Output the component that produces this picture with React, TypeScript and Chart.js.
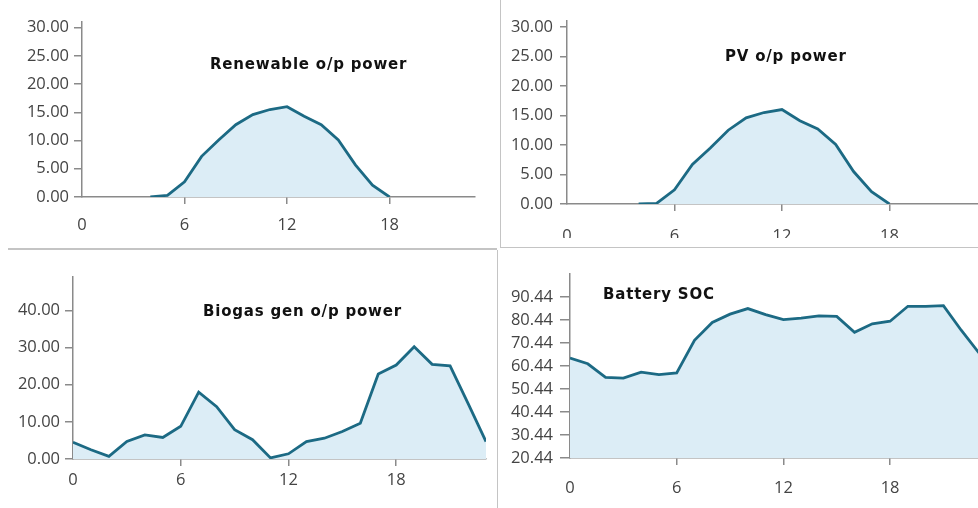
import React, { useEffect, useRef } from 'react';
import { Chart, registerables } from 'chart.js';

Chart.register(...registerables);

// ---------- data ----------
const hours = [0, 1, 2, 3, 4, 5, 6, 7, 8, 9, 10, 11, 12, 13, 14, 15, 16, 17, 18, 19, 20, 21, 22, 23];
const xTickValues = [0, 6, 12, 18];

const renewableValues = [null, null, null, null, 0, 0.3, 2.7, 7.2, 10.1, 12.8, 14.6, 15.5, 16.0, 14.3, 12.8, 10.1, 5.7, 2.1, 0, null, null, null, null, null];
const pvValues = [null, null, null, null, 0, 0.1, 2.4, 6.7, 9.5, 12.5, 14.6, 15.5, 16.0, 14.1, 12.7, 10.1, 5.5, 2.1, 0, null, null, null, null, null];
const biogasValues = [4.5, 2.5, 0.7, 4.7, 6.5, 5.8, 8.8, 18.0, 14.1, 7.9, 5.2, 0.3, 1.4, 4.7, 5.6, 7.4, 9.6, 22.9, 25.3, 30.2, 25.5, 25.1, 15.0, 4.7];
const batteryValues = [63.9, 61.4, 55.5, 55.2, 57.8, 56.7, 57.4, 71.6, 79.4, 83.0, 85.4, 82.8, 80.6, 81.3, 82.2, 82.0, 75.1, 78.8, 79.9, 86.4, 86.4, 86.7, 76.0, 66.1];

const powerTicks = [0, 5, 10, 15, 20, 25, 30];
const biogasTicks = [0, 10, 20, 30, 40];
const socTicks = [20.44, 30.44, 40.44, 50.44, 60.44, 70.44, 80.44, 90.44];

const titles = ['Renewable o/p power', 'PV o/p power', 'Biogas gen o/p power', 'Battery SOC'];

// ---------- styles ----------
const LINE = '#1c6a84';
const FILL = '#dcedf6';
const AXIS = '#8a8a8a';
const LABEL = '#444444';
const FONT = 'Open Sans';

const titlePlugin = {
  id: 'panelTitle',
  afterDraw(chart: any, _args: any, opts: any) {
    if (!opts || !opts.text) return;
    const ctx = chart.ctx;
    ctx.save();
    ctx.font = 'bold 15px "DejaVu Sans"';
    try { (ctx as any).letterSpacing = '0.8px'; } catch (e) {}
    ctx.fillStyle = '#111';
    ctx.textAlign = 'left';
    ctx.textBaseline = 'middle';
    ctx.fillText(opts.text, opts.x, opts.y);
    ctx.restore();
  },
};

type Panel = {
  box: { left: number; top: number; width: number; height: number };
  canvas: { w: number; h: number };
  padding: { left: number; top: number; right: number; bottom: number };
  yWidth: number;
  xHeight: number;
  values: (number | null)[];
  yTicks: number[];
  yMin: number;
  yMax: number;
  xPad: number;
  yPad: number;
  yTickLen: number;
  title: string;
  titlePos: { x: number; y: number };
  fill: string;
};

const panels: Panel[] = [
  {
    box: { left: 0, top: 0, width: 497, height: 247 },
    canvas: { w: 497, h: 248 },
    padding: { left: 0, top: 22, right: 22, bottom: 0 },
    yWidth: 82, xHeight: 51,
    values: renewableValues, yTicks: powerTicks, yMin: 0, yMax: 31,
    xPad: 11, yPad: 5, yTickLen: 8,
    title: titles[0], titlePos: { x: 210, y: 65 }, fill: 'origin',
  },
  {
    box: { left: 501, top: 0, width: 477, height: 238 },
    canvas: { w: 490, h: 260 },
    padding: { left: 0, top: 21, right: 12, bottom: 0 },
    yWidth: 66, xHeight: 56,
    values: pvValues, yTicks: powerTicks, yMin: 0, yMax: 31,
    xPad: 15, yPad: 7, yTickLen: 7,
    title: titles[1], titlePos: { x: 224, y: 57 }, fill: 'origin',
  },
  {
    box: { left: 0, top: 250, width: 496, height: 258 },
    canvas: { w: 497, h: 258 },
    padding: { left: 0, top: 27, right: 11, bottom: 0 },
    yWidth: 73, xHeight: 49,
    values: biogasValues, yTicks: biogasTicks, yMin: 0, yMax: 49,
    xPad: 4, yPad: 5, yTickLen: 8,
    title: titles[2], titlePos: { x: 203, y: 62 }, fill: 'origin',
  },
  {
    box: { left: 500, top: 250, width: 478, height: 258 },
    canvas: { w: 490, h: 258 },
    padding: { left: 0, top: 24, right: 11, bottom: 0 },
    yWidth: 70, xHeight: 50,
    values: batteryValues, yTicks: socTicks, yMin: 20.44, yMax: 100.44,
    xPad: 13, yPad: 7, yTickLen: 10,
    title: titles[3], titlePos: { x: 103, y: 45 }, fill: 'start',
  },
];

function makeConfig(p: Panel): any {
  return {
    type: 'line',
    data: {
      datasets: [
        {
          data: hours.map((h, i) => ({ x: h, y: p.values[i] })),
          borderColor: LINE,
          backgroundColor: FILL,
          borderWidth: 2.8,
          pointRadius: 0,
          tension: 0,
          fill: p.fill,
          spanGaps: false,
        },
      ],
    },
    options: {
      responsive: false,
      animation: false,
      devicePixelRatio: 1,
      layout: { padding: p.padding },
      plugins: {
        legend: { display: false },
        tooltip: { enabled: false },
        title: { display: false },
        panelTitle: { text: p.title, x: p.titlePos.x, y: p.titlePos.y },
      },
      scales: {
        x: {
          type: 'linear',
          min: 0,
          max: 23,
          afterBuildTicks: (s: any) => { s.ticks = xTickValues.map((v) => ({ value: v })); },
          afterFit: (s: any) => { s.height = p.xHeight; },
          grid: {
            drawOnChartArea: false,
            drawTicks: true,
            tickLength: 7,
            color: (c: any) => (c.tick && c.tick.value === 0 ? 'rgba(0,0,0,0)' : AXIS),
            lineWidth: 1.5,
          },
          border: { display: true, color: AXIS, width: 1.5 },
          ticks: {
            color: LABEL,
            font: { family: FONT, size: 16.5 },
            padding: p.xPad,
            maxRotation: 0,
            autoSkip: false,
            callback: (v: any) => String(v),
          },
        },
        y: {
          type: 'linear',
          min: p.yMin,
          max: p.yMax,
          afterBuildTicks: (s: any) => { s.ticks = p.yTicks.map((v) => ({ value: v })); },
          afterFit: (s: any) => { s.width = p.yWidth; },
          grid: {
            drawOnChartArea: false,
            drawTicks: true,
            tickLength: p.yTickLen,
            color: AXIS,
            lineWidth: 1.5,
          },
          border: { display: true, color: AXIS, width: 1.5 },
          ticks: {
            color: LABEL,
            font: { family: FONT, size: 16.5 },
            padding: p.yPad,
            autoSkip: false,
            callback: (v: any) => Number(v).toFixed(2),
          },
        },
      },
    },
    plugins: [titlePlugin],
  };
}

function PanelChart({ p }: { p: Panel }) {
  const ref = useRef<HTMLCanvasElement | null>(null);
  useEffect(() => {
    if (!ref.current) return;
    const chart = new Chart(ref.current, makeConfig(p));
    return () => chart.destroy();
  }, [p]);
  return (
    <div
      style={{
        position: 'absolute',
        left: p.box.left,
        top: p.box.top,
        width: p.box.width,
        height: p.box.height,
        overflow: 'hidden',
      }}
    >
      <canvas
        ref={ref}
        width={p.canvas.w}
        height={p.canvas.h}
        style={{ display: 'block', width: p.canvas.w, height: p.canvas.h }}
      />
    </div>
  );
}

const lineStyle = (l: number, t: number, w: number, h: number): React.CSSProperties => ({
  position: 'absolute',
  left: l,
  top: t,
  width: w,
  height: h,
  background: '#c4c4c4',
});

export default function App() {
  return (
    <div
      style={{
        position: 'absolute',
        left: 0,
        top: 0,
        width: 978,
        height: 508,
        background: '#ffffff',
        overflow: 'hidden',
      }}
    >
      {panels.map((p, i) => (
        <PanelChart key={i} p={p} />
      ))}
      <div style={lineStyle(8, 248, 489, 1.5)} />
      <div style={lineStyle(500, 246.5, 478, 1.5)} />
      <div style={lineStyle(499.5, 0, 1.5, 248)} />
      <div style={lineStyle(496.5, 250, 1.5, 258)} />
    </div>
  );
}
